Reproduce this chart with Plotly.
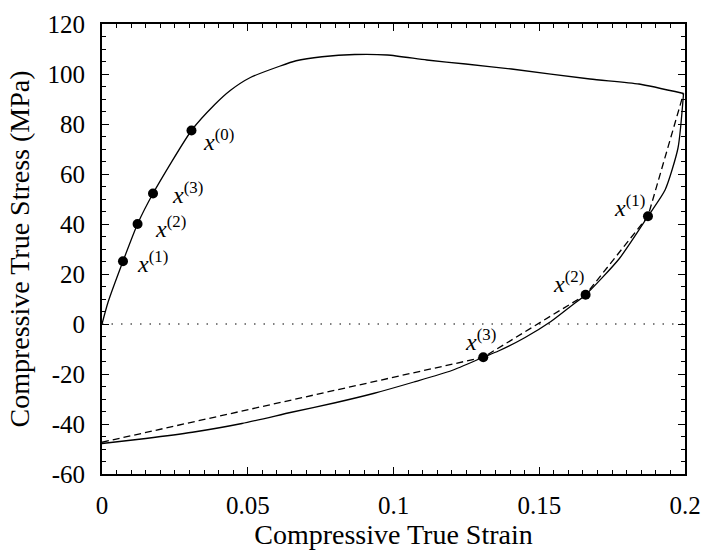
import plotly.graph_objects as go

# ---- data ----
load_strain = [0.0, 0.0021, 0.0072, 0.0122, 0.0175, 0.0307, 0.0386, 0.0441, 0.0509,
               0.0609, 0.0666, 0.0755, 0.0867, 0.0979, 0.1114, 0.1248, 0.1405,
               0.1674, 0.1842, 0.1995]
load_stress = [0.0, 8.8, 25.1, 40.0, 52.2, 77.4, 87.7, 93.5, 98.6,
               103.1, 105.3, 106.9, 107.8, 107.6, 105.6, 104.0, 102.0,
               98.0, 96.0, 92.2]

unload_strain = [0.0, 0.015, 0.031, 0.048, 0.065, 0.08, 0.0934, 0.107, 0.12, 0.1308,
                 0.136, 0.145, 0.154, 0.1607, 0.1659, 0.1775, 0.1873, 0.1932, 0.1976, 0.1995]
unload_stress = [-47.8, -45.8, -43.3, -39.8, -35.3, -31.5, -27.7, -23.2, -18.6, -13.3,
                 -10.8, -5.5, 1.0, 7.0, 11.7, 26.2, 43.1, 53.7, 70.4, 92.2]

approx_strain = [0.0, 0.1308, 0.1659, 0.1873, 0.1995]
approx_stress = [-47.3, -13.3, 11.7, 43.1, 92.2]

upper_pts_x = [0.0072, 0.0122, 0.0175, 0.0307]
upper_pts_y = [25.1, 40.0, 52.2, 77.4]
upper_labels = ["(1)", "(2)", "(3)", "(0)"]

lower_pts_x = [0.1873, 0.1659, 0.1308]
lower_pts_y = [43.1, 11.7, -13.3]
lower_labels = ["(1)", "(2)", "(3)"]

x_ticks = [0, 0.05, 0.1, 0.15, 0.2]
x_ticktext = ["0", "0.05", "0.1", "0.15", "0.2"]
y_ticks = [-60, -40, -20, 0, 20, 40, 60, 80, 100, 120]
y_ticktext = ["-60", "-40", "-20", "0", "20", "40", "60", "80", "100", "120"]
x_range = [0, 0.2]
y_range = [-60, 120]

FONT = "Liberation Serif"

fig = go.Figure()

fig.add_trace(go.Scatter(x=x_range, y=[0, 0], mode="lines",
                         line=dict(color="black", width=1, dash="1.5px,8px"),
                         hoverinfo="skip", showlegend=False))
fig.add_trace(go.Scatter(x=load_strain, y=load_stress, mode="lines",
                         line=dict(color="black", width=1.3, shape="spline", smoothing=0.6),
                         showlegend=False))
fig.add_trace(go.Scatter(x=unload_strain, y=unload_stress, mode="lines",
                         line=dict(color="black", width=1.3, shape="spline", smoothing=0.6),
                         showlegend=False))
fig.add_trace(go.Scatter(x=approx_strain, y=approx_stress, mode="lines",
                         line=dict(color="black", width=1.3, dash="7px,4px"), showlegend=False))
fig.add_trace(go.Scatter(x=upper_pts_x + lower_pts_x, y=upper_pts_y + lower_pts_y, mode="markers",
                         marker=dict(color="black", size=10), showlegend=False))

upper_shift = [(30, -1), (33, -3), (34, 1), (27, -9)]
for x, y, lab, (dx, dy) in zip(upper_pts_x, upper_pts_y, upper_labels, upper_shift):
    fig.add_annotation(x=x, y=y, text="<i>x</i><sup>" + lab + "</sup>", showarrow=False,
                       xshift=dx, yshift=dy, font=dict(family=FONT, size=24, color="black"))
lower_shift = [(-18, 10), (-17, 13), (-3, 17)]
for x, y, lab, (dx, dy) in zip(lower_pts_x, lower_pts_y, lower_labels, lower_shift):
    fig.add_annotation(x=x, y=y, text="<i>x</i><sup>" + lab + "</sup>", showarrow=False,
                       xshift=dx, yshift=dy, font=dict(family=FONT, size=24, color="black"))

axis_common = dict(showline=True, linecolor="black", linewidth=2, mirror="ticks",
                   ticks="inside", ticklen=7, tickwidth=1, tickcolor="black",
                   showgrid=False, zeroline=False, ticklabeloverflow="allow",
                   tickfont=dict(family=FONT, size=25, color="black"))

fig.update_xaxes(range=x_range, tickmode="array", tickvals=x_ticks, ticktext=x_ticktext,
                 minor=dict(ticks="inside", ticklen=4, tickwidth=1, tickcolor="black", dtick=0.005),
                 title=dict(text="Compressive True Strain", font=dict(family=FONT, size=28, color="black"),
                            standoff=2),
                 ticklabelstandoff=8, **axis_common)
fig.update_yaxes(range=y_range, tickmode="array", tickvals=y_ticks, ticktext=y_ticktext,
                 minor=dict(ticks="inside", ticklen=4, tickwidth=1, tickcolor="black", dtick=5),
                 title=dict(text="Compressive True Stress (MPa)", font=dict(family=FONT, size=28, color="black"),
                            standoff=10),
                 ticklabelstandoff=10, **axis_common)

fig.update_layout(width=712, height=552, margin=dict(l=102, r=15, t=11, b=73),
                  plot_bgcolor="white", paper_bgcolor="white", showlegend=False,
                  font=dict(family=FONT, color="black"))

fig.write_html("out.html")
